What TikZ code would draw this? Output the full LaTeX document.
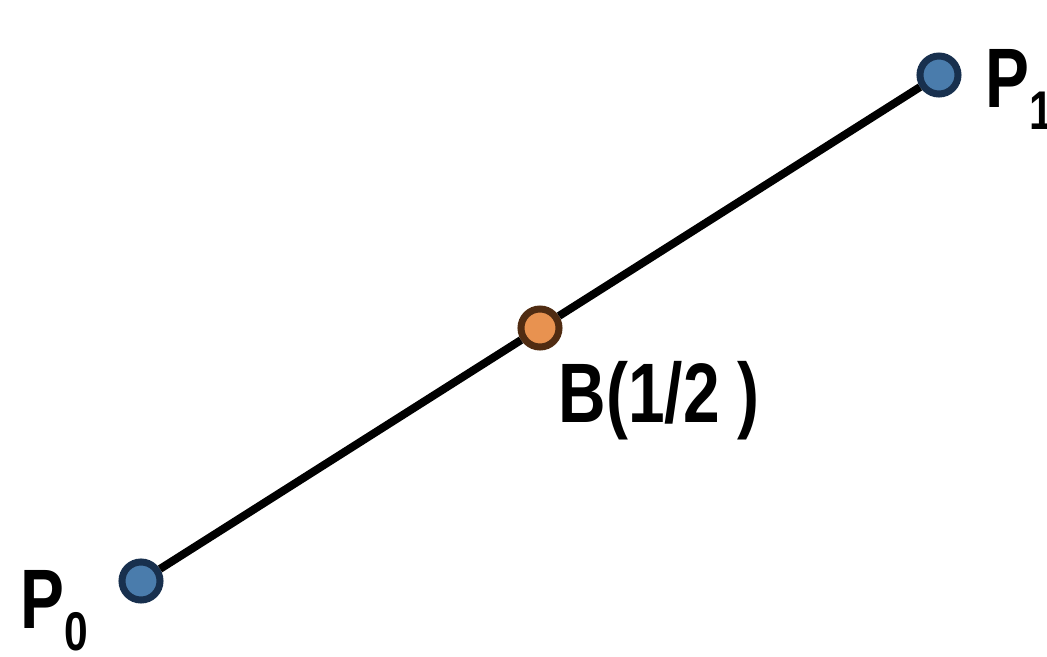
\documentclass[tikz,border=0pt]{standalone}
\usepackage{fontspec}
\setmainfont{Liberation Sans}
\newfontfamily\lblfont[FakeStretch=0.78]{Liberation Sans}
\usetikzlibrary{calc}
\definecolor{ptblue}{RGB}{74,124,172}
\definecolor{ptedge}{RGB}{24,48,78}
\definecolor{midorange}{RGB}{232,146,80}
\definecolor{midedge}{RGB}{80,44,18}
\tikzset{
  ctrlpt/.style={circle,draw=ptedge,fill=ptblue,line width=0.07cm,minimum size=0.38cm,inner sep=0pt},
  midpt/.style={circle,draw=midedge,fill=midorange,line width=0.07cm,minimum size=0.38cm,inner sep=0pt},
  lbl/.style={inner sep=0pt,anchor=base west,font=\lblfont\bfseries\fontsize{24}{28}\selectfont},
}
\newcommand{\sublbl}[1]{\raisebox{-6.5pt}{\fontsize{15.5}{18}\selectfont #1}}

\begin{document}
\begin{tikzpicture}[x=0.01cm,y=-0.01cm]
\useasboundingbox (0,0) rectangle (1047,657);
% ---------- end points and the point at t=1/2 ----------
\node[ctrlpt] (p0) at (141,581) {};
\node[ctrlpt] (p1) at (939,75) {};
\node[midpt] (b) at ($(p0)!0.5!(p1)$) {};
% ---------- the segment ----------
\draw[line width=0.08cm] (p0) -- (b) -- (p1);
% ---------- labels ----------
\node[lbl] (p0lbl) at (20,628) {P\sublbl{0}};
\node[lbl] (p1lbl) at (985,107) {P\sublbl{1}};
\node[lbl] (blbl) at (558,422) {B(1/2 )};
\end{tikzpicture}
\end{document}
